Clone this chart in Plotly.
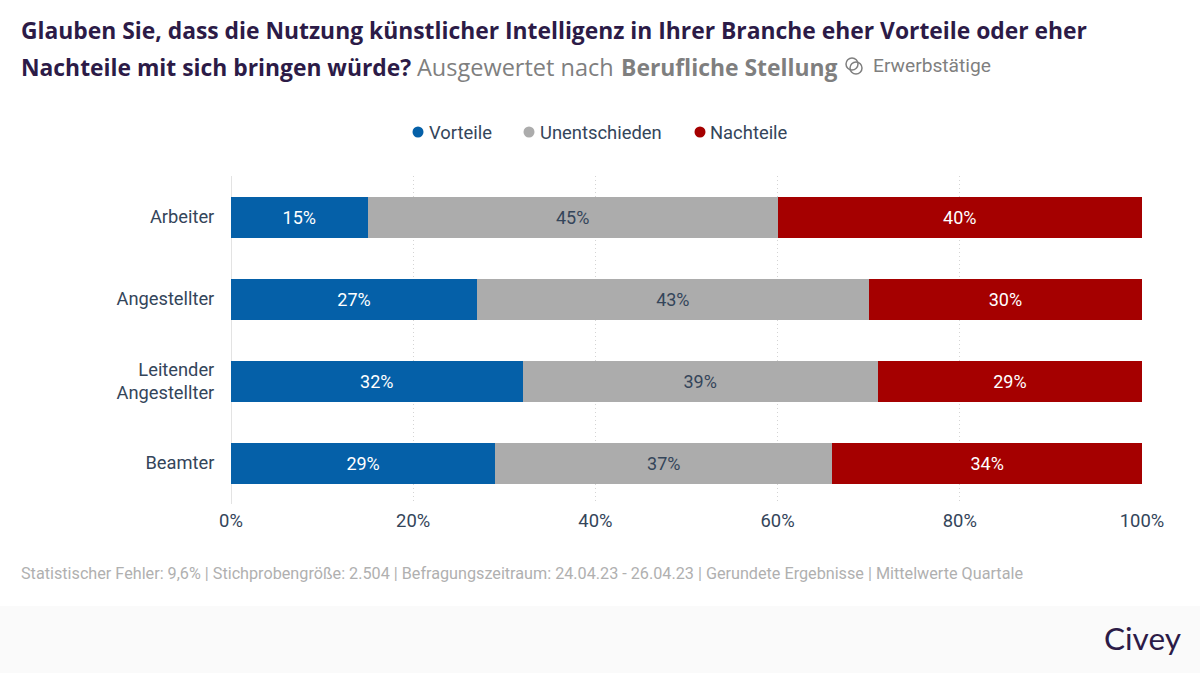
import plotly.graph_objects as go

W = 1200
H = 673
LEFT = 231
RIGHT = 1142
TOP = 176
BOTTOM = 504

categories = ['Arbeiter', 'Angestellter', 'Leitender<br>Angestellter', 'Beamter']
vorteile = [15, 27, 32, 29]
unentschieden = [45, 43, 39, 37]
nachteile = [40, 30, 29, 34]
tick_values = [0, 20, 40, 60, 80, 100]
tick_labels = ['0%', '20%', '40%', '60%', '80%', '100%']

BLUE = '#0560a8'
GREY = '#acacac'
RED = '#a50000'
DARK = '#2c1b47'
SLATE = '#34455a'
MUTED = '#7f7f7f'


# paper coordinates are relative to the plot area, so convert from page pixels
def px_x(x):
    return (x - LEFT) / (RIGHT - LEFT)


def px_y(y):
    return (BOTTOM - y) / (BOTTOM - TOP)


fig = go.Figure()

for name, values, color, text_color in [
    ('Vorteile', vorteile, BLUE, 'white'),
    ('Unentschieden', unentschieden, GREY, SLATE),
    ('Nachteile', nachteile, RED, 'white'),
]:
    fig.add_trace(go.Bar(
        y=categories, x=values, name=name, orientation='h',
        marker=dict(color=color, line=dict(width=0)),
        text=[f'{v}%' for v in values], textposition='inside',
        insidetextanchor='middle', textangle=0,
        textfont=dict(family='Roboto', size=18, color=text_color),
        showlegend=False,
    ))


def note(x, y, text, family='Roboto', size=16, color=SLATE, anchor='left'):
    fig.add_annotation(
        x=px_x(x), y=px_y(y), xref='paper', yref='paper', text=text, showarrow=False,
        xanchor=anchor, yanchor='middle', align='left', xshift=0,
        borderpad=0, borderwidth=0,
        font=dict(family=family, size=size, color=color),
    )


# title, two lines
note(21, 31, '<b>Glauben Sie, dass die Nutzung künstlicher Intelligenz in Ihrer Branche eher Vorteile oder eher</b>',
     family='Open Sans', size=22.85, color=DARK)
note(21, 67, '<b>Nachteile mit sich bringen würde?</b>', family='Open Sans', size=22.85, color=DARK)
note(417, 67, 'Ausgewertet nach', family='Open Sans', size=23.5, color=MUTED)
note(621, 67, '<b>Berufliche Stellung</b>', family='Open Sans', size=22.9, color=MUTED)
note(873, 65, 'Erwerbstätige', size=19.2, color=MUTED)

# legend
for x_dot, x_text, label, color in [(418, 429, 'Vorteile', BLUE), (529, 539.5, 'Unentschieden', GREY), (700, 710, 'Nachteile', RED)]:
    fig.add_shape(type='circle', xref='paper', yref='paper', x0=px_x(x_dot - 5.5), x1=px_x(x_dot + 5.5),
                  y0=px_y(132 + 5.5), y1=px_y(132 - 5.5), fillcolor=color, line=dict(width=0))
    note(x_text, 132, label, size=18.4, color=SLATE)

# filter icon, two overlapping rings
fig.add_shape(type='circle', xref='paper', yref='paper', x0=px_x(846), x1=px_x(858), y0=px_y(70), y1=px_y(58),
              line=dict(color=MUTED, width=1.5))
fig.add_shape(type='circle', xref='paper', yref='paper', x0=px_x(850), x1=px_x(862), y0=px_y(74), y1=px_y(62),
              line=dict(color=MUTED, width=1.5))

# footer
note(21, 573, 'Statistischer Fehler: 9,6% | Stichprobengröße: 2.504 | Befragungszeitraum: 24.04.23 - 26.04.23 | Gerundete Ergebnisse | Mittelwerte Quartale',
     size=16.2, color='#b0b0b0')
fig.add_shape(type='rect', xref='paper', yref='paper', x0=px_x(0), x1=px_x(W), y0=px_y(H), y1=px_y(606),
              fillcolor='#fafafa', line=dict(width=0), layer='below')
note(1180.5, 638, 'Civey', family='Lato', size=31.5, color=DARK, anchor='right')

fig.update_layout(
    width=W, height=H, barmode='stack', bargap=0.5,
    margin=dict(l=LEFT, r=W - RIGHT, t=TOP, b=H - BOTTOM),
    paper_bgcolor='white', plot_bgcolor='white',
    font=dict(family='Roboto', size=16, color=SLATE),
)
fig.update_xaxes(range=[0, 100], tickmode='array', tickvals=tick_values, ticktext=tick_labels,
                 showgrid=True, gridcolor='#d4d4d4', griddash='1px,3px', gridwidth=1,
                 zeroline=True, zerolinecolor='#e3e3e3', zerolinewidth=1,
                 showline=False, ticks='outside', ticklen=0, tickcolor='rgba(0,0,0,0)',
                 tickfont=dict(size=18.4), fixedrange=True)
fig.update_yaxes(categoryorder='array', categoryarray=categories[::-1], showgrid=False, zeroline=False,
                 ticks='outside', ticklen=12, tickcolor='rgba(0,0,0,0)', tickfont=dict(size=18.3), fixedrange=True)

fig.write_html('out.html', post_script="document.body.style.margin='0';", config=dict(displayModeBar=False))
